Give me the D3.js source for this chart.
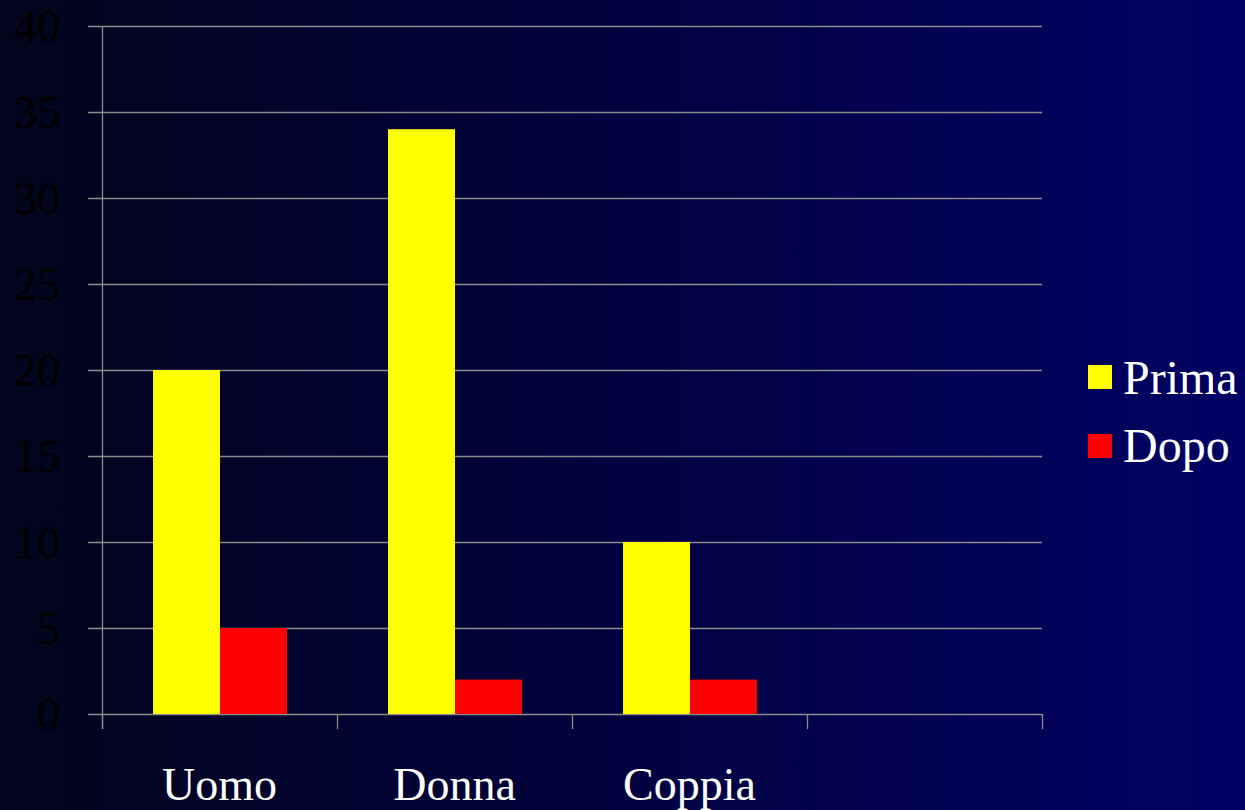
<!DOCTYPE html>
<html><head><meta charset="utf-8">
<script src="https://cdn.jsdelivr.net/npm/d3@7"></script>
<style>html,body{margin:0;padding:0;overflow:hidden;background:#000030}</style>
</head><body>
<svg id="c" width="1245" height="810"></svg>
<script>
const categories = ["Uomo", "Donna", "Coppia", ""];
const seriesNames = ["Prima", "Dopo"];
const prima = [20, 34, 10, null];
const dopo = [5, 2, 2, null];
const yTicks = [0, 5, 10, 15, 20, 25, 30, 35, 40];
const colors = ["#ffff00", "#ff0000"];

(function () {
const FONT = "'Liberation Serif', 'Times New Roman', serif";
const svg = d3.select("#c");
const defs = svg.append("defs");
const g = defs.append("linearGradient").attr("id", "bg").attr("x1", 0).attr("x2", 1).attr("y1", 0).attr("y2", 0);
g.append("stop").attr("offset", 0).attr("stop-color", "#04041c");
g.append("stop").attr("offset", 1).attr("stop-color", "#000064");
svg.append("rect").attr("width", 1245).attr("height", 810).attr("fill", "url(#bg)");

const mLeft = 102, mRight = 1042, mTop = 26, mBottom = 714;
const x = d3.scaleBand().domain(categories).range([mLeft, mRight]).padding(0);
const y = d3.scaleLinear().domain([0, 40]).range([mBottom, mTop]);
const barW = x.bandwidth() * 0.285;
const x1 = d3.scaleBand().domain(seriesNames).range([0, barW * 2]);

const axisColor = "#8a8a8a";
svg.append("g").selectAll("line").data(yTicks).join("line")
  .attr("x1", mLeft - 14).attr("x2", mRight)
  .attr("y1", d => Math.round(y(d)) + 0.5).attr("y2", d => Math.round(y(d)) + 0.5)
  .attr("stroke", axisColor).attr("stroke-width", 1.3);

const series = [prima, dopo];
series.forEach((vals, si) => {
  svg.append("g").selectAll("rect").data(categories.map((c, i) => ({c, v: vals[i]})).filter(d => d.v != null))
    .join("rect")
    .attr("x", d => x(d.c) + (x.bandwidth() - barW * 2) / 2 + x1(seriesNames[si]) + 0.5)
    .attr("width", x1.bandwidth())
    .attr("y", d => y(d.v))
    .attr("height", d => y(0) - y(d.v))
    .attr("fill", colors[si]);
});

svg.append("line").attr("x1", mLeft + 0.5).attr("x2", mLeft + 0.5).attr("y1", mTop).attr("y2", mBottom + 15)
  .attr("stroke", axisColor).attr("stroke-width", 1.3);
const xt = categories.map(c => x(c)).concat([mRight]);
svg.append("g").selectAll("line").data(xt).join("line")
  .attr("x1", d => Math.round(d) + 0.5).attr("x2", d => Math.round(d) + 0.5)
  .attr("y1", mBottom).attr("y2", mBottom + 15)
  .attr("stroke", axisColor).attr("stroke-width", 1.3);

svg.append("g").selectAll("text").data(yTicks).join("text")
  .attr("x", 60).attr("y", d => y(d)).attr("dy", "0.34em")
  .attr("text-anchor", "end")
  .style("font-family", FONT).attr("font-size", 46)
  .attr("fill", "#000000").text(d => d);

svg.append("g").selectAll("text").data(categories.filter(c => c)).join("text")
  .attr("x", d => x(d) + x.bandwidth() / 2).attr("y", 800)
  .attr("text-anchor", "middle")
  .style("font-family", FONT).attr("font-size", 46)
  .attr("fill", "#ffffff").text(d => d);

const lg = svg.append("g");
seriesNames.forEach((n, i) => {
  lg.append("rect").attr("x", 1088).attr("y", 365 + i * 69).attr("width", 24).attr("height", 24).attr("fill", colors[i]);
  lg.append("text").attr("x", 1123).attr("y", 394 + i * 68)
    .style("font-family", FONT).attr("font-size", 48)
    .attr("fill", "#ffffff").text(n);
});
})();
</script>
</body></html>
